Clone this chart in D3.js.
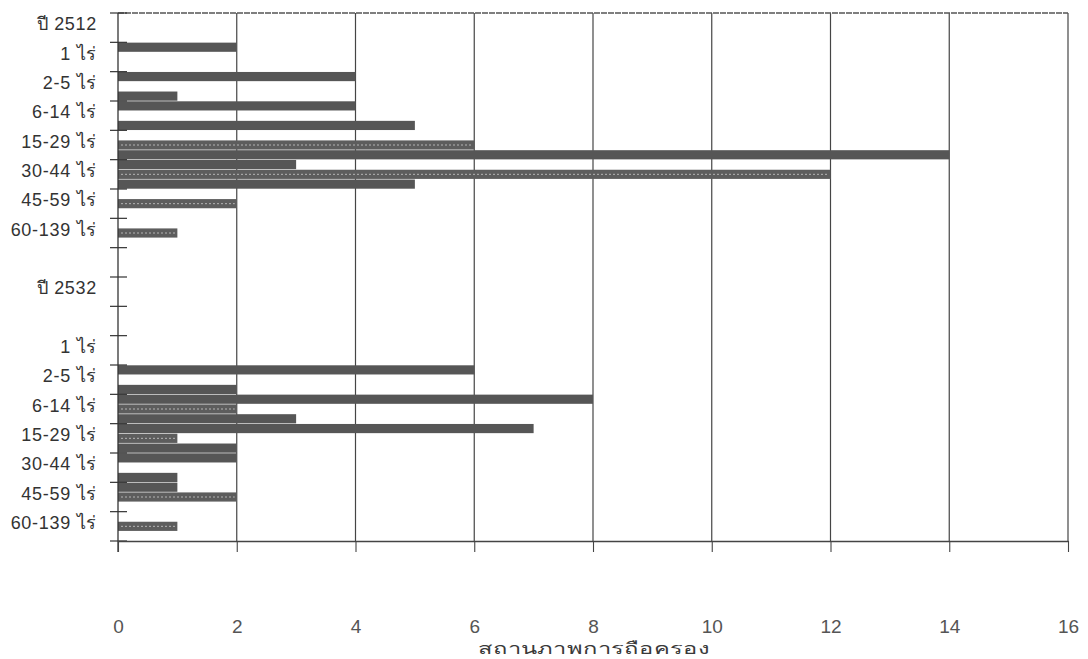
<!DOCTYPE html>
<html><head><meta charset="utf-8">
<script src="https://cdn.jsdelivr.net/npm/d3@7"></script>
<style>
html,body{margin:0;padding:0;background:#fff;}
svg{display:block;}
text{font-family:"Liberation Sans", Arial, "DejaVu Sans", sans-serif;}
</style></head><body>
<svg id="chart" width="1088" height="659"></svg>
<script>
// ---- data ----
const categories = ["ปี 2512","1 ไร่","2-5 ไร่","6-14 ไร่","15-29 ไร่","30-44 ไร่","45-59 ไร่","60-139 ไร่","",
                    "ปี 2532","","1 ไร่","2-5 ไร่","6-14 ไร่","15-29 ไร่","30-44 ไร่","45-59 ไร่","60-139 ไร่"];
const seriesNames = ["ชุดที่ 1","ชุดที่ 2","ชุดที่ 3"];
const series1 = [0,2,4,4,0,3,0,0, 0, 0,0,0,6,8,7,2,1,0];
const series2 = [0,0,0,0,6,12,2,1, 0, 0,0,0,0,2,1,0,2,1];
const series3 = [0,0,1,5,14,5,0,0, 0, 0,0,0,2,3,2,1,0,0];
const xTicks = [0,2,4,6,8,10,12,14,16];
const xTitle = "สถานภาพการถือครอง";

// ---- layout ----
const svg = d3.select("#chart");
const x = d3.scaleLinear().domain([0,16]).range([118,1068]);
const y = d3.scaleBand().domain(d3.range(categories.length)).range([13,541]).padding(0);
const ys = d3.scaleBand().domain(seriesNames).range([0,y.bandwidth()]).padding(0);

const allSeries = [series1, series2, series3];
const bars = [];
allSeries.forEach((arr,si)=>arr.forEach((v,ci)=>{ if(v>0) bars.push({s:seriesNames[si], si, ci, v}); }));

// gridlines
svg.append("g").selectAll("line").data(xTicks.filter(t=>t>0)).join("line")
  .attr("x1",d=>x(d)).attr("x2",d=>x(d))
  .attr("y1",y.range()[0]).attr("y2",y.range()[1])
  .attr("stroke","#454545").attr("stroke-width",1.2);

// top border
svg.append("line").attr("x1",x(0)).attr("x2",x(16)).attr("y1",13).attr("y2",13)
  .attr("stroke","#555").attr("stroke-width",1.3).attr("stroke-dasharray","6,1");

// bars
const barG = svg.append("g");
barG.selectAll("rect").data(bars).join("rect")
  .attr("x",x(0))
  .attr("y",d=>y(d.ci)+ys(d.s)+0.3)
  .attr("width",d=>x(d.v)-x(0))
  .attr("height",ys.bandwidth()-0.6)
  .attr("fill",d=>d.si===1?"#5d5d5d":"#565656");
// texture for the second series
barG.selectAll("line").data(bars.filter(d=>d.si===1)).join("line")
  .attr("x1",x(0)+3).attr("x2",d=>x(d.v)-2)
  .attr("y1",d=>y(d.ci)+ys(d.s)+ys.bandwidth()/2)
  .attr("y2",d=>y(d.ci)+ys(d.s)+ys.bandwidth()/2)
  .attr("stroke","#b5b5b5").attr("stroke-width",1).attr("stroke-dasharray","2,2");

// y axis line + cross ticks at band boundaries
svg.append("line").attr("x1",x(0)).attr("x2",x(0)).attr("y1",13).attr("y2",552)
  .attr("stroke","#333").attr("stroke-width",1.3);
const bounds = y.domain().map(i=>y(i)).concat([y.range()[1]]);
svg.append("g").selectAll("line").data(bounds).join("line")
  .attr("x1",x(0)-8).attr("x2",x(0)+9)
  .attr("y1",d=>d).attr("y2",d=>d)
  .attr("stroke","#333").attr("stroke-width",1.2);

// y labels
svg.append("g").selectAll("text").data(categories.map((c,i)=>({c,i})).filter(d=>d.c)).join("text")
  .attr("x",97).attr("y",d=>y(d.i)+y.bandwidth()/2+2.5)
  .attr("text-anchor","end")
  .attr("font-size",18).attr("letter-spacing","0.7px").attr("fill","#333")
  .text(d=>d.c);

// x axis
const xAxis = d3.axisBottom(x).tickValues(xTicks).tickSize(11).tickPadding(67.5).tickSizeOuter(0);
const gx = svg.append("g").attr("transform","translate(0,541)").call(xAxis);
gx.select(".domain").attr("stroke","#444").attr("stroke-width",1.3);
gx.selectAll(".tick line").attr("stroke","#444").attr("stroke-width",1.1);
gx.selectAll(".tick text").attr("font-size",19).attr("fill","#555")
  .attr("font-family","'Liberation Sans', Arial, sans-serif");

// x title
svg.append("text").attr("x",594).attr("y",654).attr("text-anchor","middle")
  .attr("font-size",16).attr("textLength",232).attr("lengthAdjust","spacingAndGlyphs")
  .attr("fill","#3a3a3a").text(xTitle);
</script>
</body></html>
